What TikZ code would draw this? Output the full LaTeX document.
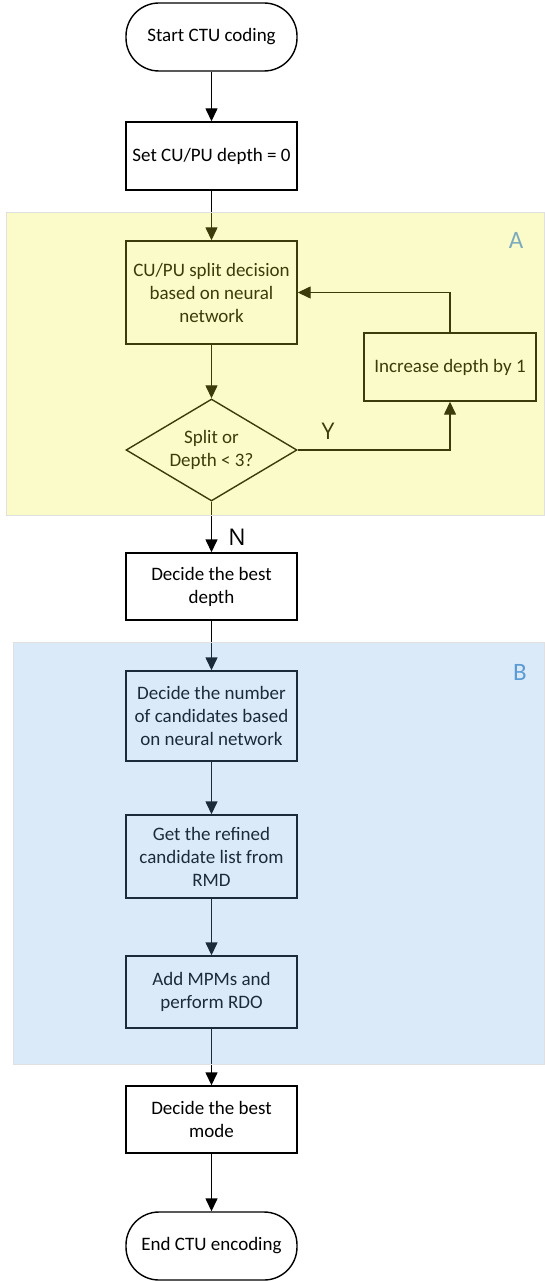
\documentclass[tikz,border=0pt]{standalone}
\usepackage{fontspec}
\setmainfont{Carlito}
\newfontfamily\labfont{Open Sans}
\usetikzlibrary{shapes.geometric,arrows.meta}
\definecolor{ovA}{RGB}{239,239,45}
\definecolor{ovB}{RGB}{112,172,232}
\definecolor{labA}{RGB}{125,170,190}
\definecolor{labB}{RGB}{91,155,213}
\begin{document}
\begin{tikzpicture}[x=1pt,y=-1pt,
  every node/.style={font=\fontsize{19}{23}\selectfont, align=center, text=black},
  box/.style={draw=black, line width=1.4pt, minimum width=171pt, inner sep=0pt},
  term/.style={box, rounded corners=33pt, minimum height=68pt},
  dec/.style={draw=black, line width=1.4pt, shape=diamond, shape aspect=1.68,
    minimum width=171pt, minimum height=102pt, inner sep=0pt},
  arr/.style={line width=1.4pt, -{Triangle[width=12pt,length=13pt]}},
  overlay region/.style={opacity=0.25},
  regionborder/.style={draw=black!12, line width=0.8pt},
  yn/.style={font=\labfont\fontsize{23}{26}\selectfont},
  biglab/.style={font=\fontsize{25}{28}\selectfont}]
\useasboundingbox (0,0) rectangle (544,1281);

% nodes
\node[term] (start) at (211.5,37) {Start CTU coding};
\node[box, minimum height=68pt] (set) at (211.5,156) {Set CU/PU depth = 0};
\node[box, minimum height=103pt] (split) at (211.5,292.5) {CU/PU split decision\\based on neural\\network};
\node[dec] (cond) at (211.5,450) {Split or\\Depth < 3?};
\node[box, minimum width=172pt, minimum height=68pt] (inc) at (450,367) {Increase depth by 1};
\node[box, minimum height=67pt] (depth) at (211.5,586.5) {Decide the best\\depth};
\node[box, minimum height=90pt] (num) at (211.5,716) {Decide the number\\of candidates based\\on neural network};
\node[box, minimum height=83pt] (get) at (211.5,856.5) {Get the refined\\candidate list from\\RMD};
\node[box, minimum height=72pt] (add) at (211.5,992) {Add MPMs and\\perform RDO};
\node[box, minimum height=67pt] (mode) at (211.5,1119.5) {Decide the best\\mode};
\node[term] (end) at (211.5,1246) {End CTU encoding};

% connectors
\draw[arr] (start) -- (set);
\draw[arr] (set) -- (split);
\draw[arr] (split) -- (cond);
\draw[arr] (cond.east) -| (inc.south);
\draw[arr] (inc.north) |- (split.east);
\draw[arr] (cond.south) -- (depth.north);
\draw[arr] (depth) -- (num);
\draw[arr] (num) -- (get);
\draw[arr] (get) -- (add);
\draw[arr] (add) -- (mode);
\draw[arr] (mode) -- (end);

\node[yn] (ylab) at (328,431) {Y};
\node[yn] (nlab) at (237,537) {N};

% translucent regions
\fill[ovA, overlay region] (6,212) rectangle (544,515);
\draw[regionborder] (6,212) rectangle (544,515);
\fill[ovB, overlay region] (13,642) rectangle (544,1064);
\draw[regionborder] (13,642) rectangle (544,1064);

\node[biglab, text=labA] (alab) at (516,240) {A};
\node[biglab, text=labB] (blab) at (520,672) {B};
\end{tikzpicture}
\end{document}
